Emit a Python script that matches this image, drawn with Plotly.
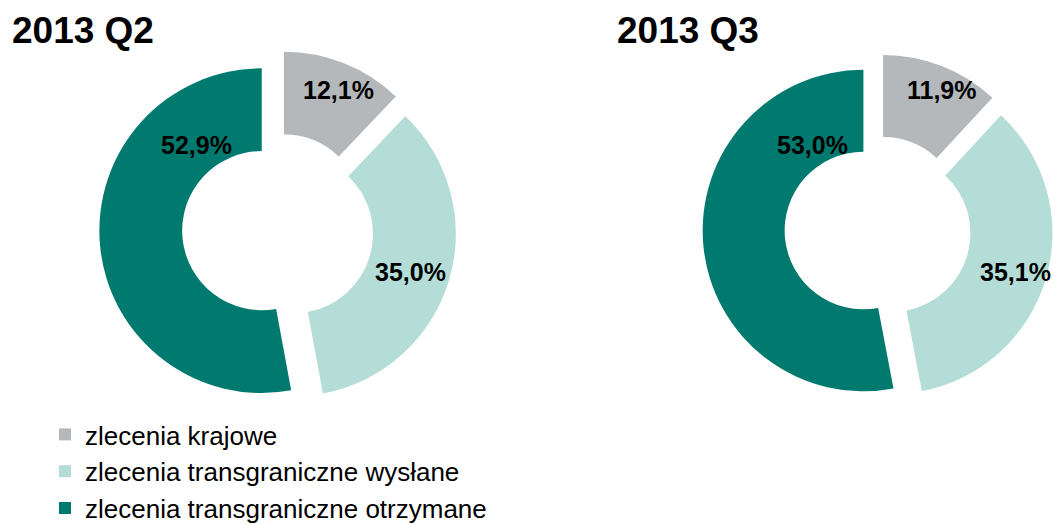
import plotly.graph_objects as go

# Payment order structure by direction, two quarters
categories = ["zlecenia krajowe", "zlecenia transgraniczne wysłane", "zlecenia transgraniczne otrzymane"]
q2_values = [12.1, 35.0, 52.9]
q3_values = [11.9, 35.1, 53.0]
periods = ["2013 Q2", "2013 Q3"]

colors = ["#B4B8BB", "#B3DDD6", "#007A6F"]
W, H = 1053, 524
FONT = "Liberation Sans, Arial, sans-serif"


def px_x(x):
    return x / W


def px_y(y):
    return 1 - y / H


# pie domains in pixel space (left, right, top, bottom) and slice pull
domains = [
    (99.3, 456.5, 50.6, 407.8),
    (702.6, 1053, 53.7, 404.7),
]
pulls = [0.10, 0.09]

# label anchor points (pixels) for each slice, per pie
label_pos = [
    [(338, 90), (410, 272), (196, 145)],
    [(942, 90), (1015, 272), (812, 145)],
]

fig = go.Figure()
for i, (vals, dom, pull) in enumerate(zip([q2_values, q3_values], domains, pulls)):
    l, r, t, b = dom
    fig.add_trace(go.Pie(
        labels=categories,
        values=vals,
        hole=0.49,
        pull=[pull] * len(vals),
        sort=False,
        direction="clockwise",
        rotation=0,
        marker=dict(colors=colors, line=dict(width=0)),
        textinfo="none",
        hoverinfo="label+percent",
        domain=dict(x=[px_x(l), min(1, px_x(r))], y=[px_y(b), px_y(t)]),
        showlegend=(i == 0),
    ))

annotations = []
for title, x in zip(periods, [10, 615]):
    annotations.append(dict(
        text=f"<b>{title}</b>", x=px_x(x), y=px_y(30.5), xref="paper", yref="paper",
        xanchor="left", yanchor="middle", showarrow=False,
        font=dict(family=FONT, size=37, color="#000000"),
    ))

for vals, positions in zip([q2_values, q3_values], label_pos):
    for v, (x, y) in zip(vals, positions):
        annotations.append(dict(
            text="<b>" + f"{v:.1f}".replace(".", ",") + "%</b>",
            x=px_x(x), y=px_y(y), xref="paper", yref="paper",
            xanchor="center", yanchor="middle", showarrow=False,
            font=dict(family=FONT, size=25, color="#000000"),
        ))

fig.update_layout(
    width=W, height=H,
    margin=dict(l=0, r=0, t=0, b=0, autoexpand=False),
    paper_bgcolor="#FFFFFF", plot_bgcolor="#FFFFFF",
    annotations=annotations,
    legend=dict(
        x=px_x(45), y=px_y(411), xanchor="left", yanchor="top",
        orientation="v", traceorder="normal",
        font=dict(family=FONT, size=26, color="#000000"),
        itemwidth=30, bgcolor="rgba(0,0,0,0)",
    ),
)

fig.write_html("out.html")
